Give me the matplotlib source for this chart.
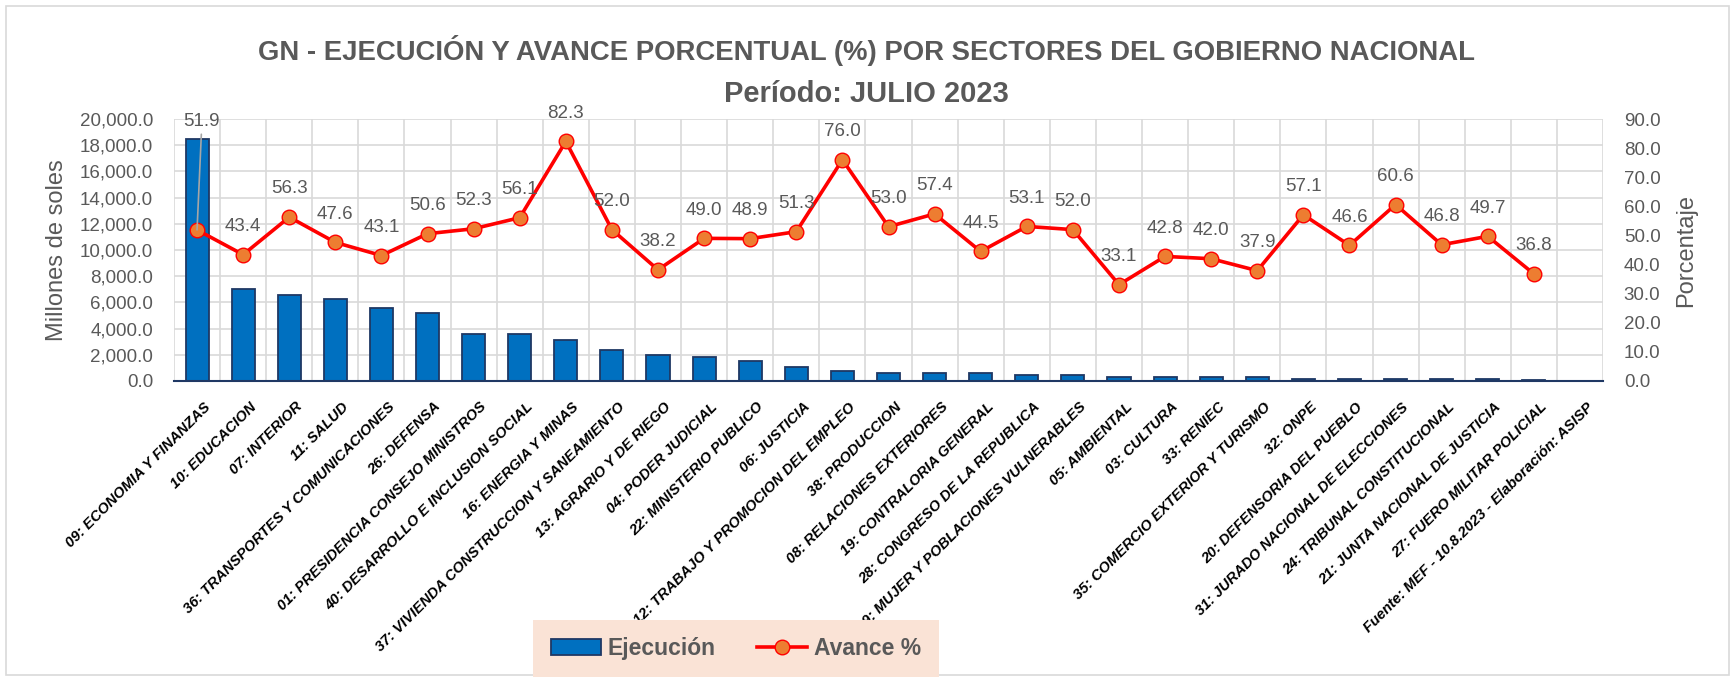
import numpy as np
import matplotlib
matplotlib.use('Agg')
import matplotlib.pyplot as plt
import matplotlib.transforms as mtransforms
from matplotlib.patches import Patch, Rectangle
from matplotlib.lines import Line2D
from matplotlib.ticker import FuncFormatter

plt.rcParams['font.family'] = ['Liberation Sans', 'DejaVu Sans']

# sectores (el ultimo es solo la fuente, sin datos)
sectores = [
    '09: ECONOMIA Y FINANZAS', '10: EDUCACION', '07: INTERIOR', '11: SALUD',
    '36: TRANSPORTES Y COMUNICACIONES', '26: DEFENSA', '01: PRESIDENCIA CONSEJO MINISTROS',
    '40: DESARROLLO E INCLUSION SOCIAL', '16: ENERGIA Y MINAS',
    '37: VIVIENDA CONSTRUCCION Y SANEAMIENTO', '13: AGRARIO Y DE RIEGO', '04: PODER JUDICIAL',
    '22: MINISTERIO PUBLICO', '06: JUSTICIA', '12: TRABAJO Y PROMOCION DEL EMPLEO',
    '38: PRODUCCION', '08: RELACIONES EXTERIORES', '19: CONTRALORIA GENERAL',
    '28: CONGRESO DE LA REPUBLICA', '39: MUJER Y POBLACIONES VULNERABLES', '05: AMBIENTAL',
    '03: CULTURA', '33: RENIEC', '35: COMERCIO EXTERIOR Y TURISMO', '32: ONPE',
    '20: DEFENSORIA DEL PUEBLO', '31: JURADO NACIONAL DE ELECCIONES',
    '24: TRIBUNAL CONSTITUCIONAL', '21: JUNTA NACIONAL DE JUSTICIA', '27: FUERO MILITAR POLICIAL',
    'Fuente: MEF - 10.8.2023 - Elaboración: ASISP',
]

# millones de soles
ejecucion = [18500, 7000, 6550, 6280, 5540, 5210, 3580, 3560, 3120, 2400,
             1950, 1800, 1500, 1050, 750, 600, 600, 580, 450, 440,
             300, 280, 270, 270, 140, 130, 130, 120, 120, 110]

# avance %
avance = [51.9, 43.4, 56.3, 47.6, 43.1, 50.6, 52.3, 56.1, 82.3, 52.0,
          38.2, 49.0, 48.9, 51.3, 76.0, 53.0, 57.4, 44.5, 53.1, 52.0,
          33.1, 42.8, 42.0, 37.9, 57.1, 46.6, 60.6, 46.8, 49.7, 36.8]

gris = '#595959'
azul = '#0070C0'
borde = '#1F3864'
W, H = 1735, 677

fig = plt.figure(figsize=(W / 100, H / 100), dpi=100)
ax = fig.add_axes([174 / W, 1 - 381 / H, (1603 - 174) / W, (381 - 119) / H])
ax2 = ax.twinx()

x = np.arange(len(sectores))
xb = x[:len(ejecucion)]

ax.bar(xb, ejecucion, width=0.5, color=azul, edgecolor=borde, linewidth=1.3)
ax.set_xlim(-0.5, len(sectores) - 0.5)
ax.set_ylim(0, 20000)
ax.set_yticks(np.arange(0, 20001, 2000))
ax.yaxis.set_major_formatter(FuncFormatter(lambda v, p: f'{v:,.1f}'))
ax.set_xticks(x)
ax.set_xticklabels(sectores, rotation=45, ha='right', va='top', rotation_mode='anchor',
                   fontsize=10.6, fontweight='bold', fontstyle='italic', color='black')
ax.set_xticks(np.arange(-0.5, len(sectores)), minor=True)
ax.grid(which='minor', axis='x', color='#D9D9D9', lw=1.2)
ax.grid(which='major', axis='y', color='#D9D9D9', lw=1.2)
ax.set_axisbelow(True)
ax.tick_params(axis='x', which='both', length=0, pad=13.5)
ax.tick_params(axis='y', length=0, pad=15, labelsize=13.5, labelcolor=gris)

# mover un poco las etiquetas a la derecha
offset = mtransforms.ScaledTranslation(6 / 100, 0, fig.dpi_scale_trans)
for lbl in ax.get_xticklabels():
    lbl.set_transform(lbl.get_transform() + offset)

for s in ['top', 'left', 'right']:
    ax.spines[s].set_visible(False)
    ax2.spines[s].set_visible(False)
ax2.spines['bottom'].set_visible(False)
ax.spines['bottom'].set_color(borde)
ax.spines['bottom'].set_linewidth(1.5)

# linea de avance
ax2.plot(xb, avance, color='#FF0000', lw=2.6, marker='o', ms=10.5,
         mfc='#ED7D31', mec='#FF0000', mew=1, zorder=3)
ax2.set_ylim(0, 90)
ax2.set_yticks(np.arange(0, 91, 10))
ax2.yaxis.set_major_formatter(FuncFormatter(lambda v, p: f'{v:.1f}'))
ax2.tick_params(axis='y', length=0, pad=15, labelsize=13.5, labelcolor=gris)

for i, v in enumerate(avance):
    if i == 0:
        # etiqueta movida arriba con linea guia
        ax2.annotate(f'{v:.1f}', (xb[i], v), xytext=(3.5, 78), textcoords='offset points',
                     ha='center', va='center', fontsize=13.5, color=gris,
                     arrowprops=dict(arrowstyle='-', color='#A6A6A6', lw=1.2, shrinkA=1, shrinkB=0))
    else:
        ax2.annotate(f'{v:.1f}', (xb[i], v), xytext=(0, 17), textcoords='offset points',
                     ha='center', va='baseline', fontsize=13.5, color=gris)

# titulos de ejes
fig.text(57 / W, 1 - 250 / H, 'Millones de soles', rotation=90, ha='center', va='center',
         fontsize=17, color=gris)
fig.text(1686 / W, 1 - 250 / H, 'Porcentaje', rotation=90, ha='center', va='center',
         fontsize=17, color=gris)

# titulo
fig.text(866 / W, 1 - 51 / H,
         'GN - EJECUCIÓN Y AVANCE PORCENTUAL (%) POR SECTORES DEL GOBIERNO NACIONAL',
         ha='center', va='center', fontsize=19.8, fontweight='bold', color=gris)
fig.text(866 / W, 1 - 94 / H, 'Período: JULIO 2023', ha='center', va='center',
         fontsize=21, fontweight='bold', color=gris)

# leyenda
handles = [
    Patch(facecolor=azul, edgecolor=borde, lw=1.3, label='Ejecución'),
    Line2D([], [], color='#FF0000', lw=2.6, marker='o', ms=10.5, mfc='#ED7D31',
           mec='#FF0000', label='Avance %'),
]
leg = fig.legend(handles=handles, loc='center', bbox_to_anchor=(736 / W, 1 - 648.5 / H),
                 ncol=2, prop={'size': 16.5, 'weight': 'bold'}, frameon=True,
                 facecolor='#FAE3D6', edgecolor='none', fancybox=False, framealpha=1,
                 handlelength=2.2, handleheight=0.75, columnspacing=1.8,
                 borderpad=0.75, handletextpad=0.3)
for t in leg.get_texts():
    t.set_color(gris)

# marco del grafico
fig.add_artist(Rectangle((6 / W, 2 / H), 1 - 12 / W, 1 - 8 / H, transform=fig.transFigure,
                         fill=False, ec='#D9D9D9', lw=1.2))

fig.savefig('out.png', dpi=100)
